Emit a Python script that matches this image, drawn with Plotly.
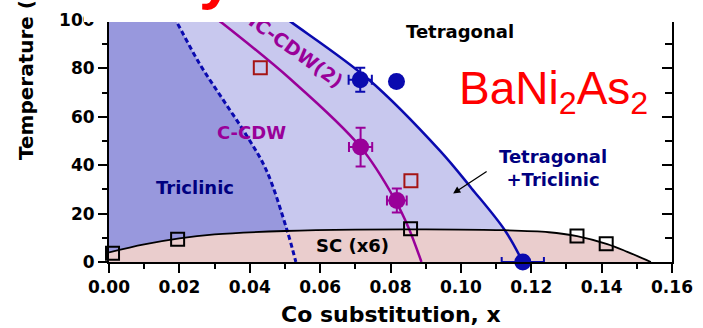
import plotly.graph_objects as go

# ---------------- data ----------------
# phase boundaries
x_triclinic = [0.0172, 0.0192, 0.0257, 0.0322, 0.0390, 0.0447, 0.0506, 0.0531]
T_triclinic = [104, 99.2, 82.0, 67.5, 52.5, 38.0, 13.1, 0]

x_tetragonal = [0.0472, 0.0517, 0.0738, 0.0941, 0.1030, 0.1125, 0.1176]
T_tetragonal = [104, 99.2, 75.4, 45.9, 30.5, 13.1, 0]

x_ccdw = [0.0274, 0.0314, 0.0512, 0.0715, 0.0814, 0.0851, 0.0888]
T_ccdw = [104, 99.6, 76.0, 47.5, 25.4, 14.3, 0]

x_sc_curve = [0.0, 0.01, 0.02, 0.03, 0.05, 0.07, 0.09, 0.11, 0.125, 0.133, 0.1416, 0.1473, 0.154]
T_sc_curve = [4.0, 7.3, 9.8, 11.4, 12.8, 13.4, 13.5, 13.2, 12.3, 10.7, 7.4, 4.2, 0]

# data points
x_sc_pts = [0.0010, 0.0195, 0.0857, 0.1330, 0.1413]
T_sc_pts = [3.6, 9.4, 13.7, 10.7, 7.5]

x_red_pts = [0.0430, 0.0858]
T_red_pts = [80.2, 33.6]

x_blue_pts = [0.0714, 0.0817, 0.1176]
T_blue_pts = [75.3, 74.6, 0.0]
xerr_blue = [0.0033, 0.0, 0.006]
Terr_blue = [5.0, 0.0, 0.0]

x_mag_pts = [0.0715, 0.0818]
T_mag_pts = [47.5, 25.4]
xerr_mag = [0.0033, 0.0028]
Terr_mag = [8.0, 5.0]

x_ticks = [0.00, 0.02, 0.04, 0.06, 0.08, 0.10, 0.12, 0.14, 0.16]
x_ticklabels = [f"{v:.2f}" for v in x_ticks]
T_ticks = [0, 20, 40, 60, 80, 100]

# ---------------- styling ----------------
LIGHT = "rgb(200,200,238)"
DARK = "rgb(152,152,221)"
PINK = "rgb(234,205,205)"
BLUE = "rgb(10,10,175)"
NAVY = "rgb(0,0,128)"
PURPLE = "rgb(153,0,153)"
DRED = "rgb(165,20,20)"
FONT = "DejaVu Sans"

W, H = 703, 328
ML, MR, MT, MB = 109, 28, 10, 66
PW, PH = W - ML - MR, H - MT - MB
YMAX = 103.28


def px2paper(px, py):
    return (px - ML) / PW, (H - MB - py) / PH


fig = go.Figure()

# fills
fig.add_trace(go.Scatter(x=x_tetragonal, y=T_tetragonal, mode="lines",
                         line=dict(shape="spline", width=0, color=LIGHT),
                         fill="tozerox", fillcolor=LIGHT, hoverinfo="skip"))
fig.add_trace(go.Scatter(x=x_triclinic, y=T_triclinic, mode="lines",
                         line=dict(shape="spline", width=0, color=DARK),
                         fill="tozerox", fillcolor=DARK, hoverinfo="skip"))
fig.add_trace(go.Scatter(x=x_sc_curve, y=T_sc_curve, mode="lines",
                         line=dict(shape="spline", width=0, color=PINK),
                         fill="tozeroy", fillcolor=PINK, hoverinfo="skip"))

# boundary lines
fig.add_trace(go.Scatter(x=x_triclinic, y=T_triclinic, mode="lines",
                         line=dict(shape="spline", width=3, color=BLUE, dash="5px,3px")))
fig.add_trace(go.Scatter(x=x_tetragonal, y=T_tetragonal, mode="lines",
                         line=dict(shape="spline", width=2.5, color=BLUE)))
fig.add_trace(go.Scatter(x=x_ccdw, y=T_ccdw, mode="lines",
                         line=dict(shape="spline", width=2.5, color=PURPLE)))
fig.add_trace(go.Scatter(x=x_sc_curve, y=T_sc_curve, mode="lines",
                         line=dict(shape="spline", width=1.8, color="black")))

# markers
fig.add_trace(go.Scatter(x=x_sc_pts, y=T_sc_pts, mode="markers", cliponaxis=False,
                         marker=dict(symbol="square-open", size=13, color="black",
                                     line=dict(width=2, color="black"))))
fig.add_trace(go.Scatter(x=x_red_pts, y=T_red_pts, mode="markers", cliponaxis=False,
                         marker=dict(symbol="square-open", size=13, color=DRED,
                                     line=dict(width=2, color=DRED))))
fig.add_trace(go.Scatter(x=x_blue_pts, y=T_blue_pts, mode="markers", cliponaxis=False,
                         marker=dict(symbol="circle", size=17, color=BLUE),
                         error_x=dict(type="data", array=xerr_blue, color=BLUE, thickness=2, width=5),
                         error_y=dict(type="data", array=Terr_blue, color=BLUE, thickness=2, width=5)))
fig.add_trace(go.Scatter(x=x_mag_pts, y=T_mag_pts, mode="markers", cliponaxis=False,
                         marker=dict(symbol="circle", size=17, color=PURPLE),
                         error_x=dict(type="data", array=xerr_mag, color=PURPLE, thickness=2, width=5),
                         error_y=dict(type="data", array=Terr_mag, color=PURPLE, thickness=2, width=5)))

# invisible trace to activate the right-hand axis
fig.add_trace(go.Scatter(x=[0.0], y=[0.0], yaxis="y2", mode="markers",
                         marker=dict(opacity=0), hoverinfo="skip"))

tickfont = dict(family=FONT, size=17, color="black", weight="bold")

fig.update_layout(
    width=W, height=H, autosize=False,
    margin=dict(l=ML, r=MR, t=MT, b=MB),
    plot_bgcolor="white", paper_bgcolor="white", showlegend=False,
    xaxis=dict(range=[0, 0.16], tickvals=x_ticks, ticktext=x_ticklabels,
               ticks="outside", ticklen=9, tickwidth=2, tickcolor="black",
               showline=True, linewidth=2, linecolor="black",
               showgrid=False, zeroline=False, tickfont=tickfont,
               minor=dict(ticks="outside", ticklen=5, tickwidth=2, tickcolor="black",
                          dtick=0.01, tick0=0, showgrid=False)),
    yaxis=dict(range=[0, YMAX], tickvals=T_ticks,
               ticks="outside", ticklen=9, tickwidth=2, tickcolor="black",
               showline=True, linewidth=2, linecolor="black",
               showgrid=False, zeroline=False, tickfont=tickfont,
               minor=dict(ticks="outside", ticklen=5, tickwidth=2, tickcolor="black",
                          dtick=10, tick0=0, showgrid=False)),
    yaxis2=dict(range=[0, YMAX], overlaying="y", side="right", tickvals=T_ticks,
                ticks="inside", ticklen=10, tickwidth=2, tickcolor="black",
                showline=True, linewidth=2, linecolor="black",
                showticklabels=False, showgrid=False, zeroline=False,
                minor=dict(ticks="inside", ticklen=7, tickwidth=2, tickcolor="black",
                           dtick=10, tick0=0, showgrid=False)),
)

ann = []


def label(text, x, y, color, size=17, angle=0, family=FONT, weight="bold"):
    ann.append(dict(text=text, x=x, y=y, xref="x", yref="y", showarrow=False,
                    textangle=angle, xanchor="center", yanchor="middle",
                    font=dict(family=family, size=size, color=color, weight=weight)))


label("Tetragonal", 0.0998, 95.1, "black", 18)
label("IC-CDW(2)", 0.0534, 87.3, PURPLE, 19, angle=36)
label("C-CDW", 0.0404, 53.3, PURPLE, 18)
label("Triclinic", 0.0243, 30.7, NAVY, 18)
label("Tetragonal<br>+Triclinic", 0.1261, 38.9, NAVY, 18)
label("SC (x6)", 0.0693, 7.0, "black", 18)
label("BaNi<sub>2</sub>As<sub>2</sub>", 0.1263, 70.5, "red", 46,
      family="Liberation Sans, Arial", weight="normal")

# arrow pointing into the coexistence region
ann.append(dict(x=0.0978, y=28.3, xref="x", yref="y", ax=35, ay=-23,
                text="", showarrow=True, arrowhead=2, arrowsize=1.1,
                arrowwidth=1.3, arrowcolor="black"))

# axis titles
xp, yp = px2paper(25, 66)
ann.append(dict(text="Temperature (K)", x=xp, y=yp, xref="paper", yref="paper",
                showarrow=False, textangle=-90, xanchor="center", yanchor="middle",
                font=dict(family=FONT, size=20, color="black", weight="bold")))
xp, yp = px2paper(392, 315)
ann.append(dict(text="Co substitution, x", x=xp, y=yp, xref="paper", yref="paper",
                showarrow=False, xanchor="center", yanchor="middle",
                font=dict(family=FONT, size=22, color="black", weight="bold")))

# white title box overlapping the top of the chart
xp, yp = px2paper(84, 20)
ann.append(dict(text=" ", x=xp, y=yp, xref="paper", yref="paper", showarrow=False,
                xanchor="left", yanchor="bottom", width=660, height=80,
                bgcolor="white", borderpad=0, borderwidth=0))
xp, yp = px2paper(236, 8.5)
ann.append(dict(text="Nematicity", x=xp, y=yp, xref="paper", yref="paper",
                showarrow=False, xanchor="right", yanchor="bottom", borderpad=0,
                font=dict(family="Liberation Sans, Arial", size=62, color="red",
                          weight="bold")))

fig.update_layout(annotations=ann)

fig.write_html("out.html", config={"displayModeBar": False},
               post_script="document.body.style.margin='0px';")
